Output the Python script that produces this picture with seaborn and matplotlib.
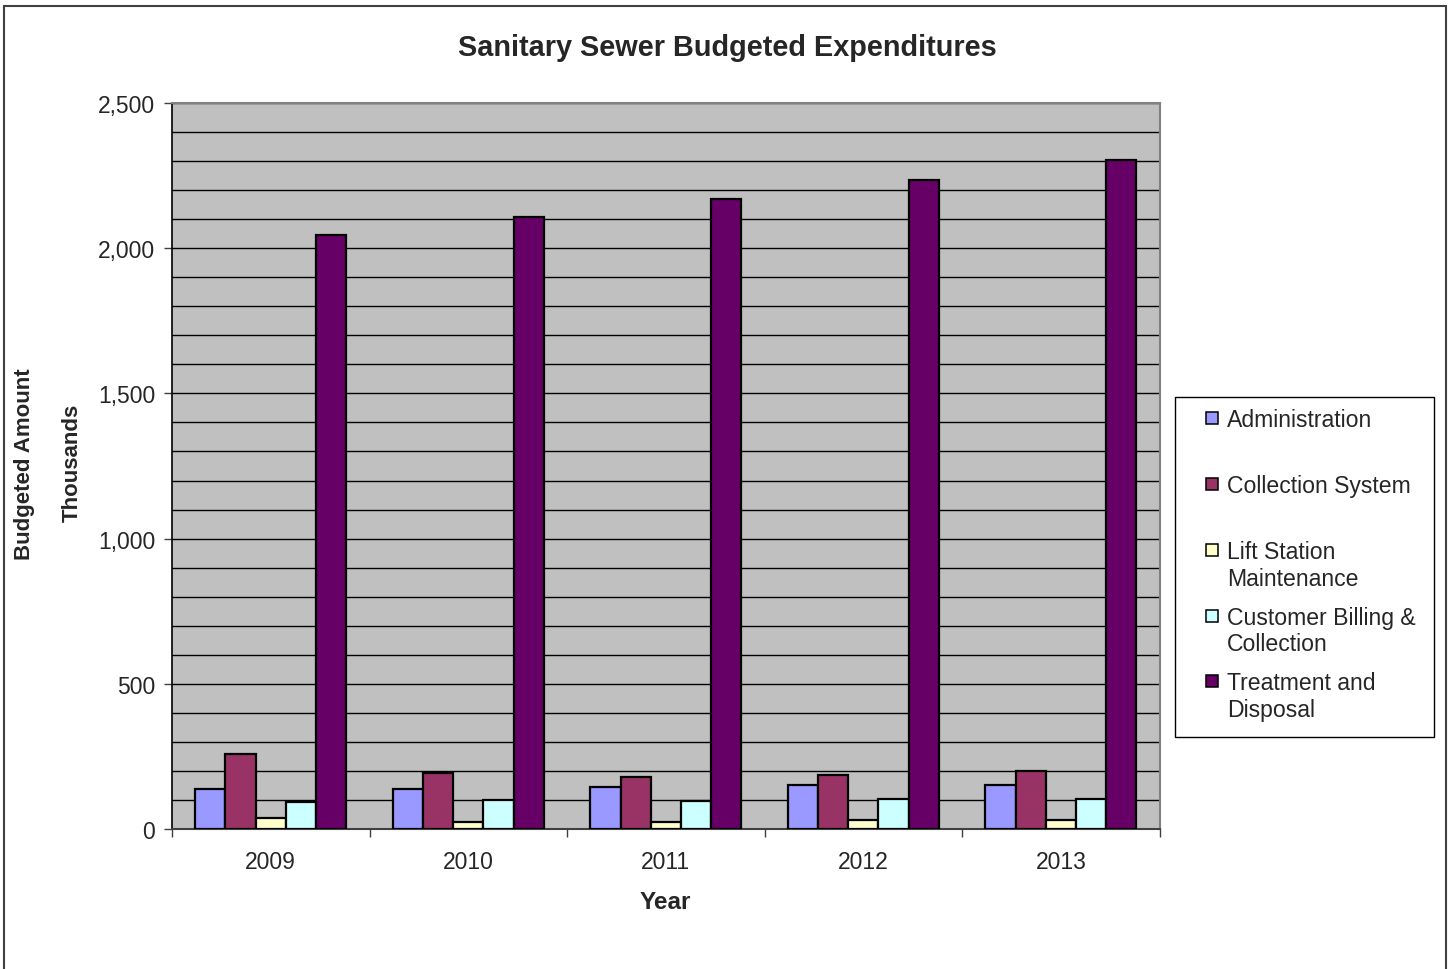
import seaborn as sns
import matplotlib.pyplot as plt
import matplotlib.patches as mpatches
from matplotlib.lines import Line2D
from matplotlib.ticker import FuncFormatter
import pandas as pd

years = ["2009", "2010", "2011", "2012", "2013"]
series = ["Administration", "Collection System", "Lift Station Maintenance",
          "Customer Billing & Collection", "Treatment and Disposal"]
administration = [139, 139, 145, 152, 152]
collection_system = [259, 192, 178, 186, 200]
lift_station = [37, 24, 24, 32, 32]
customer_billing = [92, 99, 98, 104, 104]
treatment = [2047, 2108, 2168, 2236, 2303]
legend_labels = ["Administration\n ", "Collection System\n ", "Lift Station\nMaintenance",
                 "Customer Billing &\nCollection", "Treatment and\nDisposal"]
colors = ["#9999FF", "#993366", "#FFFFCC", "#CCFFFF", "#660066"]

rows = []
for name, vals in zip(series, [administration, collection_system, lift_station,
                               customer_billing, treatment]):
    for y, v in zip(years, vals):
        rows.append({"Year": y, "Series": name, "Amount": v})
df = pd.DataFrame(rows)

sns.set_style("white")
plt.rcParams["font.family"] = ["Liberation Sans", "DejaVu Sans"]

fig = plt.figure(figsize=(14.55, 9.7), dpi=100)
ax = fig.add_axes([0.1182, 0.1443, 0.6788, 0.7485])
ax.set_facecolor("#C0C0C0")

sns.barplot(data=df, x="Year", y="Amount", hue="Series", palette=colors, saturation=1,
            width=0.764, edgecolor="black", linewidth=1.6, ax=ax, zorder=3, legend=False)

ax.set_ylim(0, 2500)
ax.set_xlim(-0.5, 4.5)
ax.set_yticks(range(0, 2501, 500))
ax.set_yticks(range(0, 2501, 100), minor=True)
ax.yaxis.set_major_formatter(FuncFormatter(lambda v, p: f"{int(v):,}"))
ax.grid(True, axis="y", which="both", color="black", linewidth=1.0, zorder=0)
ax.set_axisbelow(True)
ax.tick_params(axis="y", which="major", length=6, width=1, color="#404040",
               labelsize=16.5, pad=6, left=True)
ax.tick_params(axis="y", which="minor", length=0)
ax.set_xticks([i - 0.5 for i in range(6)], minor=True)
ax.tick_params(axis="x", which="major", length=0, labelsize=16.5, pad=15)
ax.tick_params(axis="x", which="minor", length=6, width=1, color="#404040",
               bottom=True, direction="out")
ax.set_xlabel("")
ax.set_ylabel("")
for side in ["top", "right"]:
    ax.spines[side].set_color("#808080")
    ax.spines[side].set_linewidth(1.5)
ax.spines["left"].set_color("black")
ax.spines["bottom"].set_color("#404040")
ax.spines["left"].set_linewidth(1.2)
ax.spines["bottom"].set_linewidth(1.5)

# legend: frame drawn separately, markers beside the first line of each label
handles = [Line2D([], [], linestyle="none", marker="s", markersize=9,
                  markerfacecolor=c, markeredgecolor="black", markeredgewidth=1.1)
           for c in colors]
leg = fig.legend(handles, legend_labels, loc="upper left", numpoints=1,
                 bbox_to_anchor=(1206 / 1455, 1 - 409.5 / 970), frameon=False,
                 fontsize=16.6, handlelength=0.54, handleheight=1.2, handletextpad=0.37,
                 labelspacing=0.7, borderpad=0, borderaxespad=0)
for col in leg._legend_handle_box.get_children():
    for row in col.get_children():
        row.align = "top"
fig.patches.append(mpatches.Rectangle((1175 / 1455, 1 - 738 / 970), 259 / 1455, 340 / 970,
                                      transform=fig.transFigure, fill=False,
                                      edgecolor="black", linewidth=1.0))

fig.text(0.4997, 0.9505, "Sanitary Sewer Budgeted Expenditures", ha="center", va="center",
         fontsize=20.8, fontweight="bold")
fig.text(0.457, 0.070, "Year", ha="center", va="center", fontsize=17.5, fontweight="bold")
fig.text(0.0165, 0.521, "Budgeted Amount", ha="center", va="center", rotation=90,
         fontsize=16, fontweight="bold")
fig.text(0.050, 0.523, "Thousands", ha="center", va="center", rotation=90,
         fontsize=16, fontweight="bold")

fig.patches.append(mpatches.Rectangle((4 / 1455, -0.01), 1442 / 1455, 1.003, transform=fig.transFigure,
                                      fill=False, edgecolor="#404040", linewidth=1.5))

fig.savefig("out.png", dpi=100)
